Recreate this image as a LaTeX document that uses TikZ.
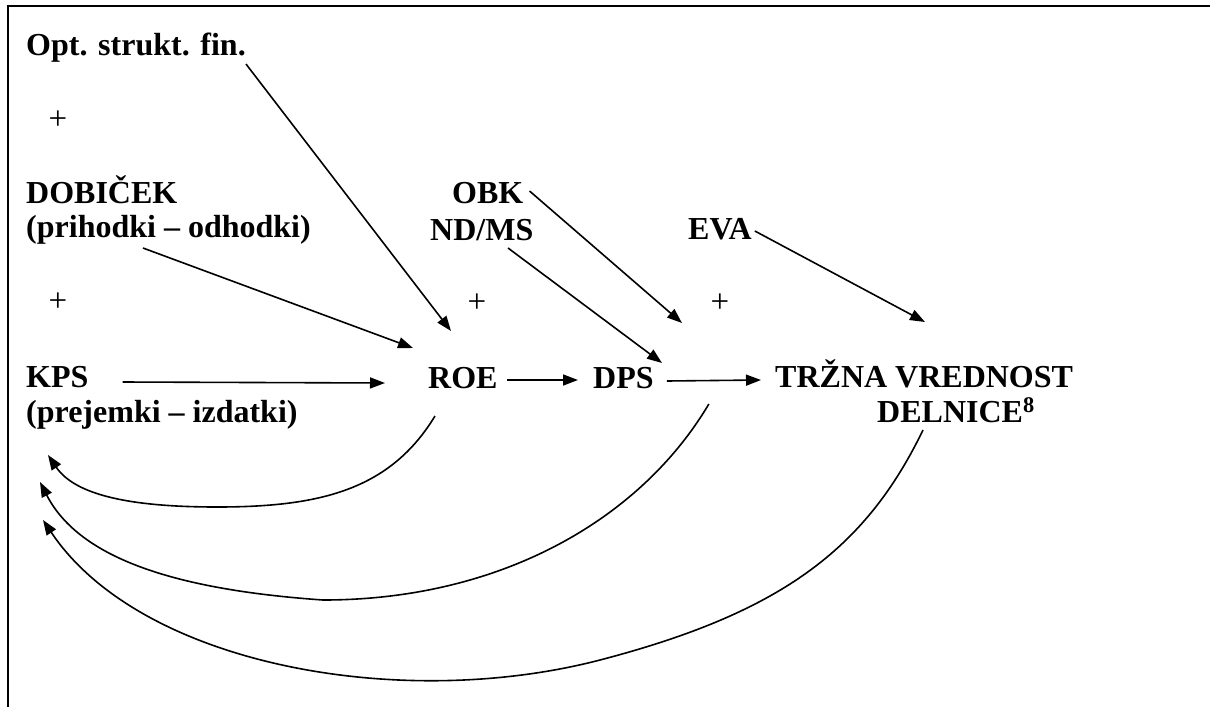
\documentclass[tikz,border=0pt]{standalone}
\usepackage{fontspec}
\setmainfont{Liberation Serif}
\usetikzlibrary{arrows.meta,calc}
\tikzset{
  lbl/.style={font=\bfseries\fontsize{32}{35}\selectfont, inner sep=0pt, anchor=base west},
  plus/.style={font=\fontsize{33}{35}\selectfont, inner sep=0pt, anchor=center},
  conn/.style={line width=1.6pt, -{Triangle[length=15pt,width=11pt]}},
  curv/.style={line width=1.6pt, -{Triangle[length=15pt,width=11pt]}},
  frameline/.style={line width=1.9pt}
}
\begin{document}
\begin{tikzpicture}[x=1pt,y=-1pt]
\useasboundingbox (0,0) rectangle (1210,707);
% frame
\coordinate (fTR) at (1210,6);
\coordinate (fTL) at (8,6);
\coordinate (fBL) at (8,707);
\draw[frameline] (fTR) -- (fTL) -- (fBL);

% texts
\node[lbl] (opt) at (26,55) {Opt. strukt. fin.};
\node[lbl] (dob1) at (26,203) {DOBIČEK};
\node[lbl] (dob2) at (26,237) {(prihodki – odhodki)};
\node[lbl] (kps1) at (26,387) {KPS};
\node[lbl] (kps2) at (26,422) {(prejemki – izdatki)};
\node[lbl] (obk) at (452,203) {OBK};
\node[lbl] (ndms) at (430,240) {ND/MS};
\node[lbl] (eva) at (688,239) {EVA};
\node[lbl] (roe) at (428,388) {ROE};
\node[lbl] (dps) at (593,388) {DPS};
\node[lbl] (trz1) at (775,387) {TRŽNA VREDNOST};
\node[lbl] (trz2) at (877,422) {DELNICE\textsuperscript{8}};

\node[plus] (p1) at (58,120) {+};
\node[plus] (p2) at (58,302) {+};
\node[plus] (p3) at (477,303) {+};
\node[plus] (p4) at (720,303) {+};

% arrow tips near targets
\coordinate (roeA) at (451,331);
\coordinate (roeB) at (413,348);
\coordinate (dpsA) at (682,323);
\coordinate (dpsB) at (662,363);
\coordinate (trzA) at (925,322);

% straight connectors
\draw[conn] ([yshift=-2pt]opt.south east) -- (roeA);
\draw[conn] ([xshift=117pt,yshift=-4pt]dob2.south west) -- (roeB);
\draw[conn] ([xshift=34pt,yshift=5pt]kps1.base east) -- ([xshift=-43pt,yshift=5pt]roe.base west);
\draw[conn] ([xshift=9pt,yshift=8pt]roe.base east) -- ([xshift=-15pt,yshift=8pt]dps.base west);
\draw[conn] ([xshift=13pt,yshift=7pt]dps.base east) -- ([xshift=-14pt,yshift=7pt]trz1.base west);
\draw[conn] ([xshift=6pt,yshift=12pt]obk.base east) -- (dpsA);
\draw[conn] ([xshift=78pt,yshift=-8pt]ndms.base west) -- (dpsB);
\draw[conn] ([xshift=3pt,yshift=8pt]eva.base east) -- (trzA);

% feedback curves
\draw[curv] ([xshift=7pt,yshift=-28pt]roe.base west)
   .. controls (390,490) and (320,507) .. (217,507)
   .. controls (130,507) and (75,495) .. ([xshift=22pt,yshift=-33pt]kps2.base west);
\draw[curv] ([xshift=55pt,yshift=-16pt]dps.base east)
   .. controls (640,520) and (500,600) .. (323,600)
   .. controls (180,590) and (80,560) .. ([xshift=14pt,yshift=-60pt]kps2.base west);
\draw[curv] ([xshift=46pt,yshift=-8pt]trz2.base west)
   .. controls (865,550) and (780,613) .. (600,660)
   .. controls (400,712) and (140,665) .. ([xshift=17pt,yshift=-98pt]kps2.base west);
\end{tikzpicture}
\end{document}
